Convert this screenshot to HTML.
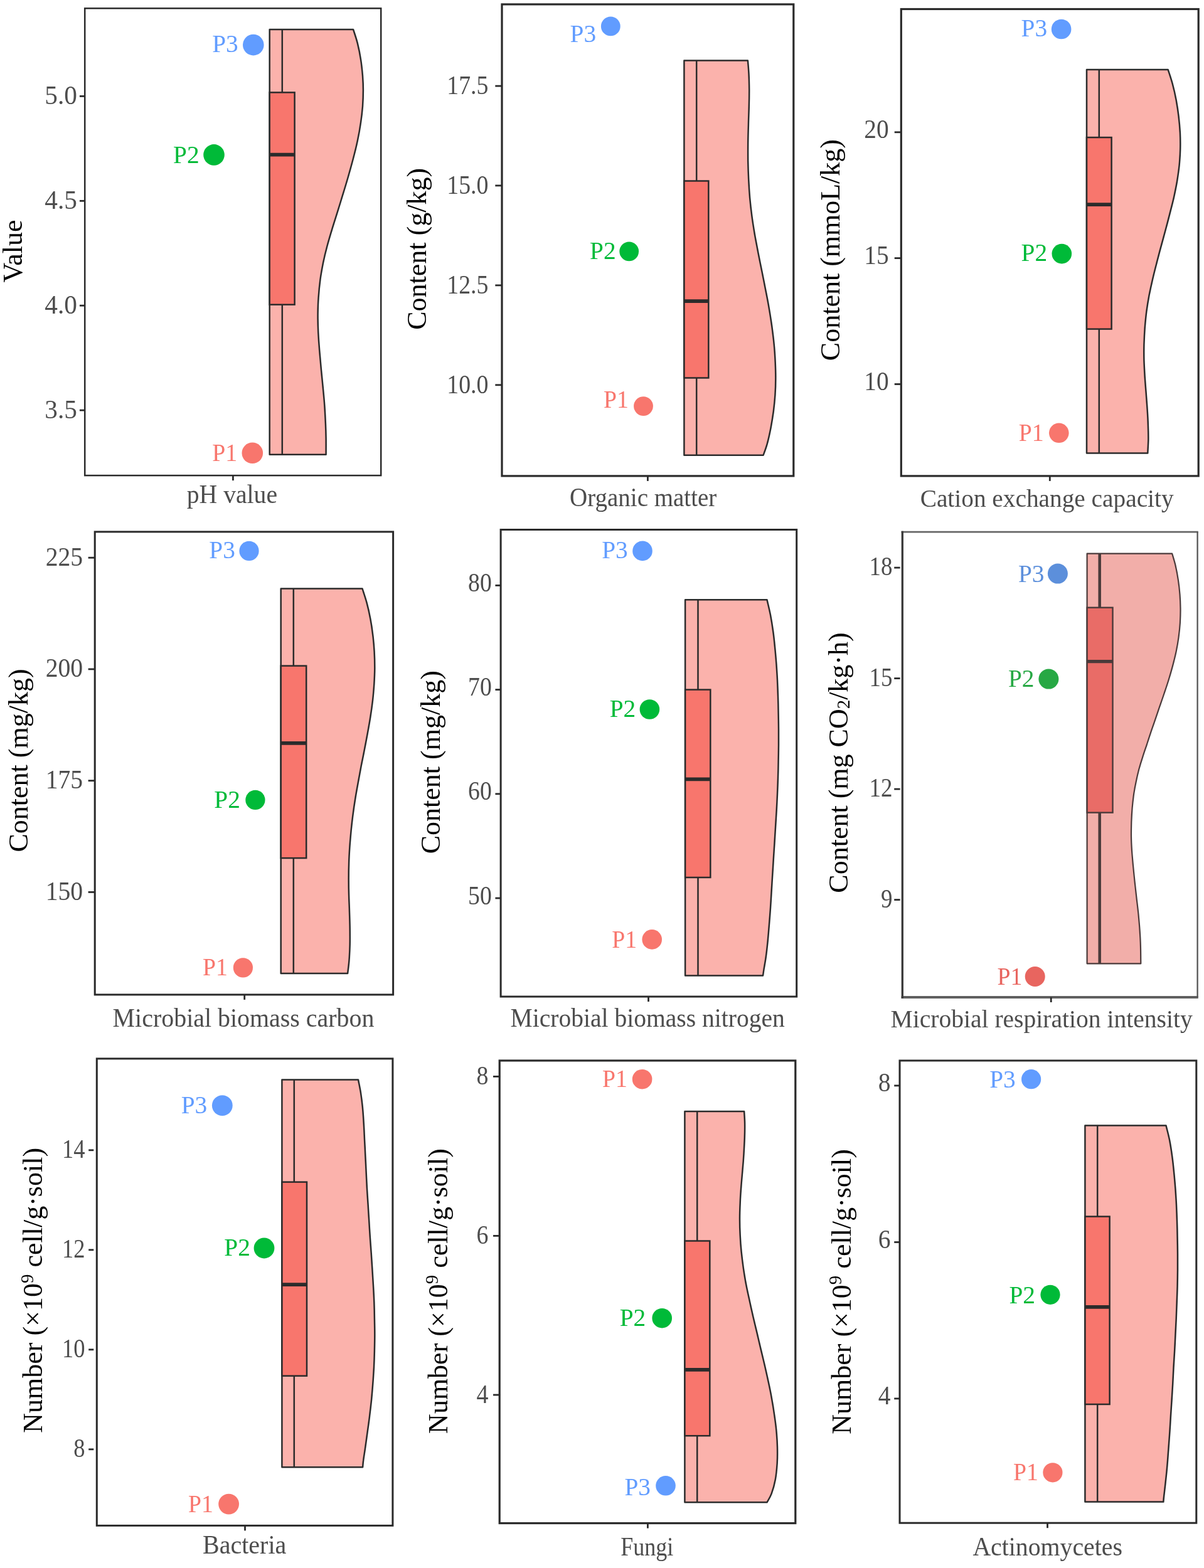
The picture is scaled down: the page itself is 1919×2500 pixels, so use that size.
<!DOCTYPE html>
<html lang="en">
<head>
<meta charset="utf-8">
<title>Soil properties raincloud plots</title>
<style>
html,body{margin:0;padding:0;background:#fff;}
body{width:1919px;height:2500px;overflow:hidden;}
svg{display:block;font-family:"Liberation Serif","DejaVu Serif",serif;font-kerning:normal;}
</style>
</head>
<body>
<svg width="1919" height="2500" viewBox="0 0 1919 2500">
<rect x="0" y="0" width="1919" height="2500" fill="#fff"/>
<g>
<path d="M429.7 46.9 L563.0 46.9 C564.2 50.5 567.8 60.9 569.8 68.9 C571.8 76.9 573.7 86.2 575.0 94.9 C576.4 103.5 577.3 112.7 578.0 120.8 C578.6 128.9 578.9 135.4 578.9 143.5 C578.9 151.6 578.6 160.8 578.0 169.5 C577.3 178.1 576.4 186.2 575.0 195.4 C573.7 204.6 571.9 214.9 569.8 224.6 C567.8 234.3 565.3 244.1 562.7 253.8 C560.2 263.5 557.4 273.3 554.6 283.0 C551.8 292.7 548.8 302.5 545.8 312.2 C542.9 321.9 539.6 332.2 536.8 341.4 C533.9 350.6 531.3 358.7 528.7 367.3 C526.1 376.0 523.5 384.6 521.2 393.3 C518.9 401.9 516.8 410.6 515.0 419.2 C513.3 427.9 511.7 436.0 510.5 445.2 C509.3 454.4 508.2 465.2 507.6 474.4 C506.9 483.5 506.7 491.1 506.6 500.3 C506.5 509.5 506.8 519.8 507.2 529.5 C507.7 539.2 508.4 549.0 509.2 558.7 C510.0 568.4 510.9 578.1 511.8 587.9 C512.7 597.6 513.8 607.3 514.7 617.1 C515.6 626.8 516.6 636.5 517.3 646.3 C518.0 656.0 518.5 666.8 518.9 675.5 C519.3 684.1 519.5 689.9 519.6 698.2 C519.7 706.4 519.6 720.3 519.6 724.8 L429.7 724.8 Z" fill="#FBB2AC" stroke="#2b2b2b" stroke-width="2.5" stroke-linejoin="round"/>
<line x1="449.8" y1="46.9" x2="449.8" y2="724.8" stroke="#2b2b2b" stroke-width="2.5"/>
<rect x="429.7" y="147.4" width="39.9" height="338.3" fill="#F8766D" stroke="#2b2b2b" stroke-width="2.5"/>
<line x1="429.7" y1="246.7" x2="469.6" y2="246.7" stroke="#2b2b2b" stroke-width="5.8"/>
<circle cx="403.8" cy="71.6" r="16.8" fill="#619CFF"/>
<text transform="translate(379.8 83.4) scale(0.965 1)" font-size="40.8" fill="#619CFF" text-anchor="end">P3</text>
<circle cx="341.0" cy="246.9" r="16.8" fill="#00BA38"/>
<text transform="translate(317.7 259.8) scale(0.965 1)" font-size="40.8" fill="#00BA38" text-anchor="end">P2</text>
<circle cx="402.3" cy="722.3" r="16.8" fill="#F8766D"/>
<text transform="translate(378.1 734.5) scale(0.926 1)" font-size="40.8" fill="#F8766D" text-anchor="end">P1</text>
<rect x="135.2" y="13.3" width="472.0" height="744.8" fill="none" stroke="#2a2a2a" stroke-width="2.5"/>
<line x1="126.9" y1="153.4" x2="135.4" y2="153.4" stroke="#2a2a2a" stroke-width="2.8"/>
<text transform="translate(122.9 165.9) scale(0.988 1)" font-size="41.8" fill="#4D4D4D" text-anchor="end">5.0</text>
<line x1="126.9" y1="320.3" x2="135.4" y2="320.3" stroke="#2a2a2a" stroke-width="2.8"/>
<text transform="translate(122.9 332.8) scale(0.988 1)" font-size="41.8" fill="#4D4D4D" text-anchor="end">4.5</text>
<line x1="126.9" y1="487.2" x2="135.4" y2="487.2" stroke="#2a2a2a" stroke-width="2.8"/>
<text transform="translate(122.9 499.7) scale(0.988 1)" font-size="41.8" fill="#4D4D4D" text-anchor="end">4.0</text>
<line x1="126.9" y1="654.1" x2="135.4" y2="654.1" stroke="#2a2a2a" stroke-width="2.8"/>
<text transform="translate(122.9 666.6) scale(0.988 1)" font-size="41.8" fill="#4D4D4D" text-anchor="end">3.5</text>
<line x1="371.4" y1="758.1" x2="371.4" y2="766.1" stroke="#2a2a2a" stroke-width="2.8"/>
<text transform="translate(297.7 802.3) scale(0.961 1)" font-size="41.3" fill="#4D4D4D">pH value</text>
<text transform="translate(35.2 400.5) rotate(-90)" font-size="44.0" fill="#000" text-anchor="middle">Value</text>
</g>
<g>
<path d="M1090.4 96.5 L1191.9 96.5 C1192.2 100.0 1193.1 109.7 1193.5 117.6 C1193.9 125.4 1194.1 134.9 1194.2 143.5 C1194.2 152.2 1194.1 160.3 1193.8 169.5 C1193.6 178.7 1193.1 188.9 1192.9 198.7 C1192.6 208.4 1192.3 218.1 1192.2 227.9 C1192.1 237.6 1192.1 247.3 1192.2 257.0 C1192.4 266.8 1192.7 276.5 1193.2 286.2 C1193.7 296.0 1194.3 305.7 1195.1 315.4 C1196.0 325.2 1197.1 334.9 1198.4 344.6 C1199.7 354.3 1201.3 364.1 1202.9 373.8 C1204.6 383.5 1206.6 393.3 1208.4 403.0 C1210.3 412.7 1212.3 422.5 1214.3 432.2 C1216.2 441.9 1218.2 451.7 1220.1 461.4 C1222.0 471.1 1224.0 480.8 1225.6 490.6 C1227.3 500.3 1228.8 510.0 1230.2 519.8 C1231.5 529.5 1232.8 539.2 1233.7 549.0 C1234.7 558.7 1235.3 569.0 1235.7 578.1 C1236.1 587.3 1236.4 595.4 1236.3 604.1 C1236.3 612.7 1236.0 621.4 1235.4 630.0 C1234.8 638.7 1233.9 647.3 1232.8 656.0 C1231.6 664.6 1230.2 673.3 1228.6 681.9 C1226.9 690.6 1224.7 700.6 1222.7 707.9 C1220.7 715.2 1217.6 722.8 1216.6 725.7 L1090.4 725.7 Z" fill="#FBB2AC" stroke="#2b2b2b" stroke-width="2.5" stroke-linejoin="round"/>
<line x1="1110.2" y1="96.5" x2="1110.2" y2="725.7" stroke="#2b2b2b" stroke-width="2.5"/>
<rect x="1090.4" y="288.5" width="38.9" height="314.0" fill="#F8766D" stroke="#2b2b2b" stroke-width="2.5"/>
<line x1="1090.4" y1="480.2" x2="1129.3" y2="480.2" stroke="#2b2b2b" stroke-width="5.8"/>
<circle cx="973.3" cy="41.9" r="15.4" fill="#619CFF"/>
<text transform="translate(950.1 66.7) scale(0.965 1)" font-size="40.8" fill="#619CFF" text-anchor="end">P3</text>
<circle cx="1002.7" cy="400.8" r="15.4" fill="#00BA38"/>
<text transform="translate(981.7 413.3) scale(0.965 1)" font-size="40.8" fill="#00BA38" text-anchor="end">P2</text>
<circle cx="1025.5" cy="647.6" r="15.4" fill="#F8766D"/>
<text transform="translate(1001.8 649.5) scale(0.926 1)" font-size="40.8" fill="#F8766D" text-anchor="end">P1</text>
<rect x="800.0" y="6.9" width="464.8" height="752.0" fill="none" stroke="#2a2a2a" stroke-width="3.2"/>
<line x1="789.3" y1="137.1" x2="799.5" y2="137.1" stroke="#2a2a2a" stroke-width="2.8"/>
<text transform="translate(778.5 150.0) scale(0.905 1)" font-size="41.8" fill="#4D4D4D" text-anchor="end">17.5</text>
<line x1="789.3" y1="295.9" x2="799.5" y2="295.9" stroke="#2a2a2a" stroke-width="2.8"/>
<text transform="translate(778.5 308.8) scale(0.905 1)" font-size="41.8" fill="#4D4D4D" text-anchor="end">15.0</text>
<line x1="789.3" y1="454.9" x2="799.5" y2="454.9" stroke="#2a2a2a" stroke-width="2.8"/>
<text transform="translate(778.5 467.8) scale(0.905 1)" font-size="41.8" fill="#4D4D4D" text-anchor="end">12.5</text>
<line x1="789.3" y1="613.8" x2="799.5" y2="613.8" stroke="#2a2a2a" stroke-width="2.8"/>
<text transform="translate(778.5 626.7) scale(0.905 1)" font-size="41.8" fill="#4D4D4D" text-anchor="end">10.0</text>
<line x1="1032.4" y1="758.9" x2="1032.4" y2="766.9" stroke="#2a2a2a" stroke-width="2.8"/>
<text transform="translate(908.1 807.0) scale(0.944 1)" font-size="41.3" fill="#4D4D4D">Organic matter</text>
<text transform="translate(678.8 396.9) rotate(-90)" font-size="44.0" fill="#000" text-anchor="middle">Content (g/kg)</text>
</g>
<g>
<path d="M1732.0 111.1 L1861.7 111.1 C1862.9 114.9 1866.7 125.7 1868.8 133.8 C1871.0 141.9 1873.1 151.1 1874.7 159.7 C1876.3 168.4 1877.6 177.0 1878.6 185.7 C1879.6 194.3 1880.4 203.0 1880.9 211.6 C1881.3 220.3 1881.4 228.9 1881.2 237.6 C1881.0 246.2 1880.4 254.9 1879.6 263.5 C1878.7 272.2 1877.4 280.8 1876.0 289.5 C1874.5 298.1 1872.7 306.8 1870.8 315.4 C1868.8 324.1 1866.5 332.7 1864.3 341.4 C1862.1 350.0 1859.8 358.7 1857.5 367.3 C1855.2 376.0 1852.7 384.6 1850.4 393.3 C1848.0 401.9 1845.8 410.6 1843.6 419.2 C1841.3 427.9 1839.1 436.5 1837.1 445.2 C1835.1 453.8 1833.2 462.5 1831.5 471.1 C1829.9 479.8 1828.5 488.4 1827.3 497.1 C1826.2 505.7 1825.4 514.4 1824.7 523.0 C1824.1 531.7 1823.7 540.3 1823.4 549.0 C1823.2 557.6 1823.2 566.3 1823.4 574.9 C1823.7 583.6 1824.2 592.2 1824.7 600.9 C1825.3 609.5 1826.0 618.2 1826.7 626.8 C1827.3 635.5 1828.1 644.1 1828.6 652.8 C1829.2 661.4 1829.7 670.6 1829.9 678.7 C1830.2 686.8 1830.4 694.1 1830.3 701.4 C1830.1 708.7 1829.4 719.0 1829.3 722.5 L1732.0 722.5 Z" fill="#FBB2AC" stroke="#2b2b2b" stroke-width="2.5" stroke-linejoin="round"/>
<line x1="1751.8" y1="111.1" x2="1751.8" y2="722.5" stroke="#2b2b2b" stroke-width="2.5"/>
<rect x="1732.0" y="219.1" width="39.6" height="305.5" fill="#F8766D" stroke="#2b2b2b" stroke-width="2.5"/>
<line x1="1732.0" y1="326.1" x2="1771.5" y2="326.1" stroke="#2b2b2b" stroke-width="5.8"/>
<circle cx="1691.6" cy="46.5" r="15.8" fill="#619CFF"/>
<text transform="translate(1669.1 58.3) scale(0.965 1)" font-size="40.8" fill="#619CFF" text-anchor="end">P3</text>
<circle cx="1692.3" cy="404.6" r="15.8" fill="#00BA38"/>
<text transform="translate(1669.1 416.4) scale(0.965 1)" font-size="40.8" fill="#00BA38" text-anchor="end">P2</text>
<circle cx="1687.8" cy="690.3" r="15.8" fill="#F8766D"/>
<text transform="translate(1663.6 702.9) scale(0.926 1)" font-size="40.8" fill="#F8766D" text-anchor="end">P1</text>
<rect x="1436.3" y="14.5" width="473.9" height="744.4" fill="none" stroke="#2a2a2a" stroke-width="3.2"/>
<line x1="1425.7" y1="210.8" x2="1435.5" y2="210.8" stroke="#2a2a2a" stroke-width="2.8"/>
<text transform="translate(1416.6 220.0) scale(0.941 1)" font-size="41.8" fill="#4D4D4D" text-anchor="end">20</text>
<line x1="1425.7" y1="411.6" x2="1435.5" y2="411.6" stroke="#2a2a2a" stroke-width="2.8"/>
<text transform="translate(1416.6 420.8) scale(0.941 1)" font-size="41.8" fill="#4D4D4D" text-anchor="end">15</text>
<line x1="1425.7" y1="612.5" x2="1435.5" y2="612.5" stroke="#2a2a2a" stroke-width="2.8"/>
<text transform="translate(1416.6 621.7) scale(0.941 1)" font-size="41.8" fill="#4D4D4D" text-anchor="end">10</text>
<line x1="1673.3" y1="758.9" x2="1673.3" y2="766.9" stroke="#2a2a2a" stroke-width="2.8"/>
<text transform="translate(1466.7 808.3) scale(0.971 1)" font-size="40.5" fill="#4D4D4D">Cation exchange capacity</text>
<text transform="translate(1338.0 398.6) rotate(-90)" font-size="44.0" fill="#000" text-anchor="middle">Content (mmoL/kg)</text>
</g>
<g>
<path d="M447.7 938.4 L577.5 938.4 C578.7 942.2 582.4 953.0 584.6 961.1 C586.8 969.2 588.8 978.4 590.4 987.0 C592.1 995.7 593.3 1004.3 594.3 1013.0 C595.4 1021.6 596.1 1030.3 596.6 1038.9 C597.1 1047.6 597.3 1056.2 597.3 1064.9 C597.2 1073.5 596.8 1082.2 596.3 1090.8 C595.7 1099.5 595.0 1108.1 594.0 1116.8 C593.0 1125.4 591.8 1134.1 590.4 1142.7 C589.1 1151.4 587.5 1160.0 585.9 1168.7 C584.3 1177.3 582.7 1186.0 581.0 1194.6 C579.4 1203.3 577.5 1211.9 575.8 1220.6 C574.2 1229.2 572.6 1237.9 571.0 1246.5 C569.4 1255.2 567.8 1263.8 566.4 1272.5 C565.0 1281.1 563.7 1289.8 562.6 1298.4 C561.4 1307.1 560.5 1315.7 559.6 1324.4 C558.8 1333.0 558.0 1341.7 557.4 1350.3 C556.8 1359.0 556.3 1367.6 556.1 1376.3 C555.8 1384.9 555.7 1393.6 555.7 1402.2 C555.7 1410.9 555.8 1419.5 556.1 1428.1 C556.3 1436.8 556.8 1445.4 557.0 1454.1 C557.3 1462.7 557.6 1471.4 557.7 1480.0 C557.8 1488.7 557.9 1497.3 557.7 1506.0 C557.5 1514.6 557.0 1524.3 556.4 1531.9 C555.8 1539.6 554.5 1548.7 554.1 1552.1 L447.7 1552.1 Z" fill="#FBB2AC" stroke="#2b2b2b" stroke-width="2.5" stroke-linejoin="round"/>
<line x1="467.8" y1="938.4" x2="467.8" y2="1552.1" stroke="#2b2b2b" stroke-width="2.5"/>
<rect x="447.7" y="1061.6" width="40.5" height="306.5" fill="#F8766D" stroke="#2b2b2b" stroke-width="2.5"/>
<line x1="447.7" y1="1184.9" x2="488.3" y2="1184.9" stroke="#2b2b2b" stroke-width="5.8"/>
<circle cx="397.0" cy="878.4" r="15.6" fill="#619CFF"/>
<text transform="translate(374.9 889.8) scale(0.965 1)" font-size="40.8" fill="#619CFF" text-anchor="end">P3</text>
<circle cx="406.9" cy="1275.4" r="15.6" fill="#00BA38"/>
<text transform="translate(382.9 1287.6) scale(0.965 1)" font-size="40.8" fill="#00BA38" text-anchor="end">P2</text>
<circle cx="387.4" cy="1542.9" r="15.6" fill="#F8766D"/>
<text transform="translate(362.9 1554.7) scale(0.926 1)" font-size="40.8" fill="#F8766D" text-anchor="end">P1</text>
<rect x="151.2" y="847.9" width="475.4" height="738.0" fill="none" stroke="#2a2a2a" stroke-width="3.0"/>
<line x1="140.6" y1="889.2" x2="150.0" y2="889.2" stroke="#2a2a2a" stroke-width="2.8"/>
<text transform="translate(132.2 901.5) scale(0.950 1)" font-size="41.8" fill="#4D4D4D" text-anchor="end">225</text>
<line x1="140.6" y1="1066.9" x2="150.0" y2="1066.9" stroke="#2a2a2a" stroke-width="2.8"/>
<text transform="translate(132.2 1079.2) scale(0.950 1)" font-size="41.8" fill="#4D4D4D" text-anchor="end">200</text>
<line x1="140.6" y1="1244.7" x2="150.0" y2="1244.7" stroke="#2a2a2a" stroke-width="2.8"/>
<text transform="translate(132.2 1257.0) scale(0.950 1)" font-size="41.8" fill="#4D4D4D" text-anchor="end">175</text>
<line x1="140.6" y1="1422.4" x2="150.0" y2="1422.4" stroke="#2a2a2a" stroke-width="2.8"/>
<text transform="translate(132.2 1434.7) scale(0.950 1)" font-size="41.8" fill="#4D4D4D" text-anchor="end">150</text>
<line x1="389.7" y1="1585.9" x2="389.7" y2="1593.9" stroke="#2a2a2a" stroke-width="2.8"/>
<text transform="translate(179.6 1636.7) scale(0.967 1)" font-size="41.3" fill="#4D4D4D">Microbial biomass carbon</text>
<text transform="translate(44.0 1212.5) rotate(-90)" font-size="44.0" fill="#000" text-anchor="middle">Content (mg/kg)</text>
</g>
<g>
<path d="M1092.1 956.2 L1222.5 956.2 C1223.4 960.3 1226.4 972.2 1228.0 980.5 C1229.6 988.9 1231.0 997.8 1232.2 1006.5 C1233.4 1015.1 1234.3 1023.8 1235.1 1032.4 C1236.0 1041.1 1236.7 1049.7 1237.4 1058.4 C1238.0 1067.0 1238.6 1075.7 1239.0 1084.3 C1239.4 1093.0 1239.7 1101.6 1240.0 1110.3 C1240.3 1118.9 1240.5 1127.6 1240.6 1136.2 C1240.8 1144.9 1240.9 1153.5 1241.0 1162.2 C1241.0 1170.8 1241.0 1179.5 1241.0 1188.1 C1240.9 1196.8 1240.8 1205.4 1240.6 1214.1 C1240.5 1222.7 1240.3 1231.4 1240.0 1240.0 C1239.7 1248.7 1239.4 1257.3 1239.0 1266.0 C1238.6 1274.6 1238.2 1283.3 1237.7 1291.9 C1237.2 1300.6 1236.6 1309.2 1236.1 1317.9 C1235.6 1326.5 1235.0 1335.2 1234.5 1343.8 C1233.9 1352.5 1233.4 1361.1 1232.8 1369.8 C1232.3 1378.4 1231.8 1387.1 1231.2 1395.7 C1230.7 1404.4 1230.1 1413.0 1229.6 1421.7 C1229.1 1430.3 1228.6 1439.0 1228.0 1447.6 C1227.4 1456.3 1226.7 1464.9 1226.0 1473.6 C1225.3 1482.2 1224.6 1490.9 1223.8 1499.5 C1222.9 1508.2 1221.9 1517.9 1220.8 1525.5 C1219.8 1533.0 1218.4 1539.9 1217.6 1544.9 C1216.8 1549.9 1216.3 1553.8 1216.0 1555.6 L1092.1 1555.6 Z" fill="#FBB2AC" stroke="#2b2b2b" stroke-width="2.5" stroke-linejoin="round"/>
<line x1="1112.5" y1="956.2" x2="1112.5" y2="1555.6" stroke="#2b2b2b" stroke-width="2.5"/>
<rect x="1092.1" y="1099.6" width="40.2" height="299.4" fill="#F8766D" stroke="#2b2b2b" stroke-width="2.5"/>
<line x1="1092.1" y1="1242.3" x2="1132.3" y2="1242.3" stroke="#2b2b2b" stroke-width="5.8"/>
<circle cx="1024.0" cy="878.4" r="15.8" fill="#619CFF"/>
<text transform="translate(1000.8 890.2) scale(0.965 1)" font-size="40.8" fill="#619CFF" text-anchor="end">P3</text>
<circle cx="1035.4" cy="1131.0" r="15.8" fill="#00BA38"/>
<text transform="translate(1013.3 1143.1) scale(0.965 1)" font-size="40.8" fill="#00BA38" text-anchor="end">P2</text>
<circle cx="1039.2" cy="1497.9" r="15.8" fill="#F8766D"/>
<text transform="translate(1015.1 1510.5) scale(0.926 1)" font-size="40.8" fill="#F8766D" text-anchor="end">P1</text>
<rect x="798.1" y="844.5" width="471.6" height="744.5" fill="none" stroke="#2a2a2a" stroke-width="3.0"/>
<line x1="789.4" y1="933.4" x2="798.0" y2="933.4" stroke="#2a2a2a" stroke-width="2.8"/>
<text transform="translate(783.8 943.0) scale(0.902 1)" font-size="41.8" fill="#4D4D4D" text-anchor="end">80</text>
<line x1="789.4" y1="1099.6" x2="798.0" y2="1099.6" stroke="#2a2a2a" stroke-width="2.8"/>
<text transform="translate(783.8 1109.2) scale(0.902 1)" font-size="41.8" fill="#4D4D4D" text-anchor="end">70</text>
<line x1="789.4" y1="1265.8" x2="798.0" y2="1265.8" stroke="#2a2a2a" stroke-width="2.8"/>
<text transform="translate(783.8 1275.4) scale(0.902 1)" font-size="41.8" fill="#4D4D4D" text-anchor="end">60</text>
<line x1="789.4" y1="1432.0" x2="798.0" y2="1432.0" stroke="#2a2a2a" stroke-width="2.8"/>
<text transform="translate(783.8 1441.6) scale(0.902 1)" font-size="41.8" fill="#4D4D4D" text-anchor="end">50</text>
<line x1="1033.5" y1="1589.0" x2="1033.5" y2="1597.0" stroke="#2a2a2a" stroke-width="2.8"/>
<text transform="translate(813.5 1636.7) scale(0.958 1)" font-size="41.3" fill="#4D4D4D">Microbial biomass nitrogen</text>
<text transform="translate(700.8 1215.2) rotate(-90)" font-size="44.0" fill="#000" text-anchor="middle">Content (mg/kg)</text>
</g>
<g>
<path d="M1732.6 882.7 L1868.2 882.7 C1869.1 885.9 1872.1 895.1 1873.7 902.2 C1875.3 909.2 1876.8 917.3 1877.9 924.9 C1879.1 932.4 1879.9 940.0 1880.5 947.6 C1881.1 955.1 1881.4 962.7 1881.5 970.3 C1881.6 977.8 1881.3 985.4 1880.9 993.0 C1880.4 1000.6 1879.6 1008.1 1878.6 1015.7 C1877.6 1023.3 1876.3 1030.8 1874.7 1038.4 C1873.1 1046.0 1871.2 1053.5 1869.2 1061.1 C1867.2 1068.7 1865.0 1076.2 1862.7 1083.8 C1860.4 1091.4 1857.8 1098.9 1855.2 1106.5 C1852.7 1114.1 1850.0 1121.6 1847.4 1129.2 C1844.8 1136.8 1842.0 1145.2 1839.7 1151.9 C1837.3 1158.7 1835.5 1163.8 1833.5 1169.8 C1831.5 1175.7 1829.7 1181.4 1827.7 1187.6 C1825.6 1193.8 1823.2 1200.6 1821.2 1207.1 C1819.1 1213.5 1817.1 1220.0 1815.3 1226.5 C1813.6 1233.0 1812.1 1239.5 1810.8 1246.0 C1809.4 1252.5 1808.3 1258.4 1807.2 1265.4 C1806.2 1272.5 1805.3 1280.6 1804.6 1288.1 C1804.0 1295.7 1803.6 1303.3 1803.3 1310.8 C1803.1 1318.4 1802.9 1326.0 1803.0 1333.5 C1803.1 1341.1 1803.5 1348.7 1804.0 1356.3 C1804.5 1363.8 1805.2 1370.8 1805.9 1379.0 C1806.7 1387.1 1807.6 1396.3 1808.5 1404.9 C1809.4 1413.6 1810.5 1422.2 1811.4 1430.9 C1812.4 1439.5 1813.5 1448.2 1814.4 1456.8 C1815.2 1465.5 1816.0 1474.1 1816.6 1482.8 C1817.2 1491.4 1817.7 1499.8 1817.9 1508.7 C1818.2 1517.6 1818.2 1531.7 1818.3 1536.3 L1732.6 1536.3 Z" fill="#F2AEA9" stroke="#4A3A3A" stroke-width="2.2" stroke-linejoin="round"/>
<line x1="1752.7" y1="882.7" x2="1752.7" y2="1536.3" stroke="#4A3A3A" stroke-width="4.5"/>
<rect x="1732.6" y="968.7" width="40.9" height="326.9" fill="#E96C67" stroke="#4A3A3A" stroke-width="2.4"/>
<line x1="1732.6" y1="1054.6" x2="1773.5" y2="1054.6" stroke="#4A3A3A" stroke-width="5.4"/>
<circle cx="1685.9" cy="914.6" r="16.0" fill="#5C8FDB"/>
<text transform="translate(1664.5 927.9) scale(0.965 1)" font-size="40.8" fill="#5C8FDB" text-anchor="end">P3</text>
<circle cx="1671.4" cy="1082.6" r="16.0" fill="#27A844"/>
<text transform="translate(1648.5 1094.8) scale(0.965 1)" font-size="40.8" fill="#27A844" text-anchor="end">P2</text>
<circle cx="1649.7" cy="1557.0" r="16.0" fill="#E8655F"/>
<text transform="translate(1629.3 1569.5) scale(0.926 1)" font-size="40.8" fill="#E8655F" text-anchor="end">P1</text>
<line x1="1436.6" y1="848.1" x2="1909.8" y2="848.1" stroke="#666666" stroke-width="2.6"/>
<line x1="1436.6" y1="1590.0" x2="1909.8" y2="1590.0" stroke="#606060" stroke-width="3.9"/>
<line x1="1908.6" y1="848.1" x2="1908.6" y2="1590.0" stroke="#555555" stroke-width="2.3"/>
<line x1="1438.3" y1="846.8" x2="1438.3" y2="1592.0" stroke="#3a3a3a" stroke-width="3.3"/>
<line x1="1425.2" y1="905.1" x2="1434.6" y2="905.1" stroke="#2a2a2a" stroke-width="2.8"/>
<text transform="translate(1422.5 917.2) scale(0.883 1)" font-size="41.8" fill="#4D4D4D" text-anchor="end">18</text>
<line x1="1425.2" y1="1081.6" x2="1434.6" y2="1081.6" stroke="#2a2a2a" stroke-width="2.8"/>
<text transform="translate(1422.5 1093.7) scale(0.883 1)" font-size="41.8" fill="#4D4D4D" text-anchor="end">15</text>
<line x1="1425.2" y1="1258.1" x2="1434.6" y2="1258.1" stroke="#2a2a2a" stroke-width="2.8"/>
<text transform="translate(1422.5 1270.2) scale(0.883 1)" font-size="41.8" fill="#4D4D4D" text-anchor="end">12</text>
<line x1="1425.2" y1="1434.6" x2="1434.6" y2="1434.6" stroke="#2a2a2a" stroke-width="2.8"/>
<text transform="translate(1422.5 1446.7) scale(0.883 1)" font-size="41.8" fill="#4D4D4D" text-anchor="end">9</text>
<line x1="1675.2" y1="1590.0" x2="1675.2" y2="1598.0" stroke="#2a2a2a" stroke-width="2.8"/>
<text transform="translate(1419.5 1638.0) scale(0.982 1)" font-size="40.3" fill="#4D4D4D">Microbial respiration intensity</text>
<text transform="translate(1351.0 1216.0) rotate(-90)" font-size="44.0" fill="#000" text-anchor="middle">Content (mg CO<tspan font-size="29" dy="3">2</tspan><tspan dy="-3">/kg·h)</tspan></text>
</g>
<g>
<path d="M449.4 1721.5 L571.0 1721.5 C571.6 1724.9 573.7 1734.7 574.9 1741.9 C576.0 1749.1 577.0 1756.5 577.8 1764.6 C578.6 1772.7 579.2 1781.9 579.7 1790.5 C580.3 1799.2 580.6 1807.8 581.0 1816.5 C581.5 1825.1 581.9 1833.8 582.3 1842.4 C582.8 1851.1 583.2 1859.7 583.6 1868.4 C584.1 1877.0 584.4 1885.7 584.9 1894.3 C585.4 1903.0 586.0 1911.6 586.6 1920.3 C587.1 1928.9 587.6 1937.6 588.2 1946.2 C588.7 1954.9 589.2 1963.5 589.8 1972.2 C590.4 1980.8 591.1 1989.5 591.7 1998.1 C592.3 2006.8 592.8 2015.4 593.4 2024.1 C593.9 2032.7 594.5 2041.4 595.0 2050.0 C595.5 2058.7 596.0 2067.3 596.3 2076.0 C596.6 2084.6 596.8 2093.3 596.9 2101.9 C597.1 2110.6 597.3 2119.2 597.3 2127.9 C597.3 2136.5 597.1 2145.2 596.9 2153.8 C596.7 2162.5 596.4 2171.1 596.0 2179.8 C595.5 2188.4 595.0 2197.1 594.3 2205.7 C593.7 2214.4 592.9 2223.0 592.1 2231.7 C591.2 2240.3 590.2 2249.0 589.1 2257.6 C588.1 2266.3 586.8 2274.9 585.6 2283.6 C584.4 2292.2 583.1 2301.9 582.0 2309.5 C580.9 2317.1 579.7 2324.0 579.1 2329.0 C578.4 2333.9 578.3 2337.6 578.1 2339.3 L449.4 2339.3 Z" fill="#FBB2AC" stroke="#2b2b2b" stroke-width="2.5" stroke-linejoin="round"/>
<line x1="468.8" y1="1721.5" x2="468.8" y2="2339.3" stroke="#2b2b2b" stroke-width="2.5"/>
<rect x="449.4" y="1884.6" width="39.6" height="309.1" fill="#F8766D" stroke="#2b2b2b" stroke-width="2.5"/>
<line x1="449.4" y1="2048.1" x2="488.9" y2="2048.1" stroke="#2b2b2b" stroke-width="5.8"/>
<circle cx="354.3" cy="1762.6" r="16.4" fill="#619CFF"/>
<text transform="translate(330.3 1774.8) scale(0.965 1)" font-size="40.8" fill="#619CFF" text-anchor="end">P3</text>
<circle cx="421.0" cy="1990.0" r="16.4" fill="#00BA38"/>
<text transform="translate(398.9 2002.2) scale(0.965 1)" font-size="40.8" fill="#00BA38" text-anchor="end">P2</text>
<circle cx="364.6" cy="2398.1" r="16.4" fill="#F8766D"/>
<text transform="translate(340.0 2410.7) scale(0.926 1)" font-size="40.8" fill="#F8766D" text-anchor="end">P1</text>
<rect x="154.3" y="1687.9" width="471.6" height="744.5" fill="none" stroke="#2a2a2a" stroke-width="3.0"/>
<line x1="141.2" y1="1833.8" x2="149.3" y2="1833.8" stroke="#2a2a2a" stroke-width="2.8"/>
<text transform="translate(135.5 1846.0) scale(0.874 1)" font-size="41.8" fill="#4D4D4D" text-anchor="end">14</text>
<line x1="141.2" y1="1992.8" x2="149.3" y2="1992.8" stroke="#2a2a2a" stroke-width="2.8"/>
<text transform="translate(135.5 2005.0) scale(0.874 1)" font-size="41.8" fill="#4D4D4D" text-anchor="end">12</text>
<line x1="141.2" y1="2151.8" x2="149.3" y2="2151.8" stroke="#2a2a2a" stroke-width="2.8"/>
<text transform="translate(135.5 2164.0) scale(0.874 1)" font-size="41.8" fill="#4D4D4D" text-anchor="end">10</text>
<line x1="141.2" y1="2310.8" x2="149.3" y2="2310.8" stroke="#2a2a2a" stroke-width="2.8"/>
<text transform="translate(135.5 2323.0) scale(0.874 1)" font-size="41.8" fill="#4D4D4D" text-anchor="end">8</text>
<line x1="390.5" y1="2432.4" x2="390.5" y2="2440.4" stroke="#2a2a2a" stroke-width="2.8"/>
<text transform="translate(323.0 2476.7) scale(0.969 1)" font-size="41.3" fill="#4D4D4D">Bacteria</text>
<text transform="translate(67.3 2057.3) rotate(-90)" font-size="44.0" fill="#000" text-anchor="middle">Number (×10<tspan font-size="29" dy="-14.5">9</tspan><tspan dy="14.5"> cell/g·soil)</tspan></text>
</g>
<g>
<path d="M1091.4 1771.9 L1186.1 1771.9 C1186.3 1775.1 1187.0 1784.3 1187.1 1791.4 C1187.2 1798.4 1187.1 1806.0 1186.8 1814.1 C1186.5 1822.2 1186.0 1831.4 1185.5 1840.0 C1185.0 1848.7 1184.3 1857.3 1183.5 1866.0 C1182.8 1874.6 1181.9 1883.3 1181.3 1891.9 C1180.6 1900.6 1180.0 1909.2 1179.7 1917.9 C1179.3 1926.5 1179.0 1935.2 1179.0 1943.8 C1179.0 1952.5 1179.2 1961.1 1179.7 1969.7 C1180.1 1978.4 1180.7 1987.0 1181.6 1995.7 C1182.5 2004.3 1183.6 2013.0 1184.8 2021.6 C1186.1 2030.3 1187.4 2038.9 1189.1 2047.6 C1190.7 2056.2 1192.7 2064.9 1194.6 2073.5 C1196.5 2082.2 1198.4 2090.8 1200.4 2099.5 C1202.4 2108.1 1204.5 2116.8 1206.6 2125.4 C1208.6 2134.1 1210.7 2142.7 1212.7 2151.4 C1214.8 2160.0 1216.9 2168.7 1218.9 2177.3 C1220.9 2186.0 1222.9 2194.6 1224.7 2203.3 C1226.6 2211.9 1228.4 2220.6 1229.9 2229.2 C1231.5 2237.9 1232.9 2246.5 1234.1 2255.2 C1235.4 2263.8 1236.6 2272.5 1237.4 2281.1 C1238.2 2289.8 1238.8 2298.4 1239.0 2307.1 C1239.2 2315.7 1239.2 2324.4 1238.7 2333.0 C1238.1 2341.7 1237.3 2350.9 1235.8 2359.0 C1234.3 2367.1 1231.8 2375.6 1229.6 2381.7 C1227.4 2387.7 1223.7 2393.0 1222.5 2395.3 L1091.4 2395.3 Z" fill="#FBB2AC" stroke="#2b2b2b" stroke-width="2.5" stroke-linejoin="round"/>
<line x1="1111.2" y1="1771.9" x2="1111.2" y2="2395.3" stroke="#2b2b2b" stroke-width="2.5"/>
<rect x="1091.4" y="1978.5" width="39.9" height="310.7" fill="#F8766D" stroke="#2b2b2b" stroke-width="2.5"/>
<line x1="1091.4" y1="2183.8" x2="1131.3" y2="2183.8" stroke="#2b2b2b" stroke-width="5.8"/>
<circle cx="1023.6" cy="1720.7" r="15.8" fill="#F8766D"/>
<text transform="translate(999.9 1732.9) scale(0.926 1)" font-size="40.8" fill="#F8766D" text-anchor="end">P1</text>
<circle cx="1055.2" cy="2101.7" r="15.8" fill="#00BA38"/>
<text transform="translate(1029.3 2114.3) scale(0.965 1)" font-size="40.8" fill="#00BA38" text-anchor="end">P2</text>
<circle cx="1061.0" cy="2368.8" r="15.8" fill="#619CFF"/>
<text transform="translate(1037.0 2383.6) scale(0.965 1)" font-size="40.8" fill="#619CFF" text-anchor="end">P3</text>
<rect x="796.2" y="1691.0" width="471.6" height="737.6" fill="none" stroke="#2a2a2a" stroke-width="3.2"/>
<line x1="786.0" y1="1716.4" x2="795.5" y2="1716.4" stroke="#2a2a2a" stroke-width="2.8"/>
<text transform="translate(778.4 1729.1) scale(0.906 1)" font-size="41.8" fill="#4D4D4D" text-anchor="end">8</text>
<line x1="786.0" y1="1970.4" x2="795.5" y2="1970.4" stroke="#2a2a2a" stroke-width="2.8"/>
<text transform="translate(778.4 1983.1) scale(0.906 1)" font-size="41.8" fill="#4D4D4D" text-anchor="end">6</text>
<line x1="786.0" y1="2224.0" x2="795.5" y2="2224.0" stroke="#2a2a2a" stroke-width="2.8"/>
<text transform="translate(778.4 2236.7) scale(0.906 1)" font-size="41.8" fill="#4D4D4D" text-anchor="end">4</text>
<line x1="1032.4" y1="2428.6" x2="1032.4" y2="2436.6" stroke="#2a2a2a" stroke-width="2.8"/>
<text transform="translate(989.3 2479.6) scale(0.872 1)" font-size="41.3" fill="#4D4D4D">Fungi</text>
<text transform="translate(712.8 2058.5) rotate(-90)" font-size="44.0" fill="#000" text-anchor="middle">Number (×10<tspan font-size="29" dy="-14.5">9</tspan><tspan dy="14.5"> cell/g·soil)</tspan></text>
</g>
<g>
<path d="M1729.4 1794.6 L1858.5 1794.6 C1859.4 1798.4 1862.4 1809.2 1864.0 1817.3 C1865.6 1825.4 1867.0 1834.6 1868.2 1843.3 C1869.4 1851.9 1870.3 1860.6 1871.1 1869.2 C1872.0 1877.8 1872.7 1886.5 1873.4 1895.1 C1874.0 1903.8 1874.6 1912.4 1875.0 1921.1 C1875.4 1929.7 1875.7 1938.4 1876.0 1947.0 C1876.3 1955.7 1876.5 1964.3 1876.6 1973.0 C1876.8 1981.6 1876.9 1990.3 1877.0 1998.9 C1877.0 2007.6 1877.0 2016.2 1877.0 2024.9 C1876.9 2033.5 1876.8 2042.2 1876.6 2050.8 C1876.4 2059.5 1876.0 2068.1 1875.7 2076.8 C1875.3 2085.4 1875.1 2094.1 1874.7 2102.7 C1874.3 2111.4 1873.8 2120.0 1873.4 2128.7 C1873.0 2137.3 1872.6 2146.0 1872.1 2154.6 C1871.6 2163.3 1871.0 2171.9 1870.5 2180.6 C1870.0 2189.2 1869.7 2197.9 1869.2 2206.5 C1868.7 2215.2 1868.1 2223.8 1867.6 2232.5 C1867.0 2241.1 1866.5 2249.8 1865.9 2258.4 C1865.4 2267.1 1864.9 2275.7 1864.3 2284.4 C1863.7 2293.0 1863.0 2301.7 1862.4 2310.3 C1861.7 2319.0 1861.2 2327.6 1860.4 2336.3 C1859.7 2344.9 1858.7 2354.1 1857.8 2362.2 C1857.0 2370.3 1855.8 2379.5 1855.2 2384.9 C1854.6 2390.3 1854.4 2393.0 1854.3 2394.6 L1729.4 2394.6 Z" fill="#FBB2AC" stroke="#2b2b2b" stroke-width="2.5" stroke-linejoin="round"/>
<line x1="1749.2" y1="1794.6" x2="1749.2" y2="2394.6" stroke="#2b2b2b" stroke-width="2.5"/>
<rect x="1729.4" y="1939.6" width="39.2" height="299.4" fill="#F8766D" stroke="#2b2b2b" stroke-width="2.5"/>
<line x1="1729.4" y1="2083.9" x2="1768.6" y2="2083.9" stroke="#2b2b2b" stroke-width="5.8"/>
<circle cx="1643.6" cy="1720.7" r="15.6" fill="#619CFF"/>
<text transform="translate(1618.8 1734.0) scale(0.965 1)" font-size="40.8" fill="#619CFF" text-anchor="end">P3</text>
<circle cx="1674.0" cy="2064.3" r="15.6" fill="#00BA38"/>
<text transform="translate(1650.0 2077.6) scale(0.965 1)" font-size="40.8" fill="#00BA38" text-anchor="end">P2</text>
<circle cx="1677.9" cy="2347.8" r="15.6" fill="#F8766D"/>
<text transform="translate(1654.9 2360.0) scale(0.926 1)" font-size="40.8" fill="#F8766D" text-anchor="end">P1</text>
<rect x="1434.0" y="1691.0" width="472.8" height="737.2" fill="none" stroke="#2a2a2a" stroke-width="3.0"/>
<line x1="1425.2" y1="1730.9" x2="1434.4" y2="1730.9" stroke="#2a2a2a" stroke-width="2.8"/>
<text transform="translate(1419.6 1740.0) scale(0.946 1)" font-size="41.8" fill="#4D4D4D" text-anchor="end">8</text>
<line x1="1425.2" y1="1980.5" x2="1434.4" y2="1980.5" stroke="#2a2a2a" stroke-width="2.8"/>
<text transform="translate(1419.6 1989.6) scale(0.946 1)" font-size="41.8" fill="#4D4D4D" text-anchor="end">6</text>
<line x1="1425.2" y1="2229.9" x2="1434.4" y2="2229.9" stroke="#2a2a2a" stroke-width="2.8"/>
<text transform="translate(1419.6 2239.0) scale(0.946 1)" font-size="41.8" fill="#4D4D4D" text-anchor="end">4</text>
<line x1="1669.5" y1="2428.2" x2="1669.5" y2="2436.2" stroke="#2a2a2a" stroke-width="2.8"/>
<text transform="translate(1550.4 2479.7) scale(0.963 1)" font-size="41.3" fill="#4D4D4D">Actinomycetes</text>
<text transform="translate(1355.5 2059.4) rotate(-90)" font-size="44.0" fill="#000" text-anchor="middle">Number (×10<tspan font-size="29" dy="-14.5">9</tspan><tspan dy="14.5"> cell/g·soil)</tspan></text>
</g>
</svg>
</body>
</html>
